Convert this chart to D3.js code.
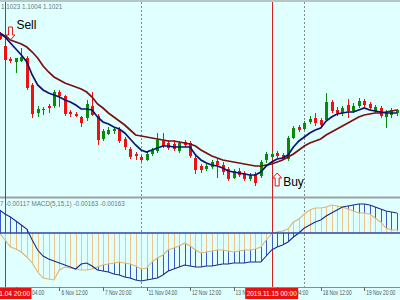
<!DOCTYPE html>
<html>
<head>
<meta charset="utf-8">
<script src="https://cdn.jsdelivr.net/npm/d3@7"></script>
<style>
  body { margin: 0; background: #e0ffff; }
  svg { display: block; font-family: "Liberation Sans", Arial, sans-serif; }
</style>
</head>
<body>
<svg id="chart" width="400" height="300"></svg>
<script>
// H4 bars, index 0 = 4 Nov 16:00
let open = [1.1147, 1.1134, 1.1121, 1.1118, 1.1119, 1.1122, 1.1095, 1.1067, 1.1070, 1.1074, 1.1074, 1.1088, 1.1084, 1.1068, 1.1066, 1.1063, 1.1062, 1.1074, 1.1064, 1.1041, 1.1046, 1.1049, 1.1051, 1.1041, 1.1031, 1.1026, 1.1023, 1.1020, 1.1026, 1.1029, 1.1039, 1.1037, 1.1036, 1.1029, 1.1038, 1.1037, 1.1022, 1.1014, 1.1011, 1.1013, 1.1019, 1.1015, 1.1011, 1.1002, 1.1009, 1.1007, 1.1001, 1.1006, 1.1004, 1.1020, 1.1023, 1.1027, 1.1025, 1.1021, 1.1042, 1.1053, 1.1051, 1.1058, 1.1062, 1.1060, 1.1060, 1.1078, 1.1070, 1.1067, 1.1075, 1.1069, 1.1074, 1.1079, 1.1076, 1.1069, 1.1072, 1.1063, 1.1065, 1.1067];
let high = [1.1148, 1.1140, 1.1123, 1.1122, 1.1132, 1.1124, 1.1097, 1.1074, 1.1073, 1.1076, 1.1090, 1.1090, 1.1085, 1.1070, 1.1068, 1.1064, 1.1080, 1.1088, 1.1066, 1.1051, 1.1053, 1.1053, 1.1053, 1.1043, 1.1033, 1.1028, 1.1025, 1.1028, 1.1032, 1.1047, 1.1047, 1.1040, 1.1040, 1.1039, 1.1040, 1.1039, 1.1024, 1.1016, 1.1016, 1.1020, 1.1021, 1.1018, 1.1013, 1.1011, 1.1012, 1.1009, 1.1007, 1.1008, 1.1020, 1.1028, 1.1028, 1.1029, 1.1027, 1.1044, 1.1054, 1.1055, 1.1059, 1.1064, 1.1067, 1.1062, 1.1087, 1.1080, 1.1073, 1.1074, 1.1081, 1.1077, 1.1082, 1.1081, 1.1078, 1.1075, 1.1074, 1.1070, 1.1072, 1.1071];
let low = [1.1140, 1.1118, 1.1117, 1.1107, 1.1118, 1.1090, 1.1062, 1.1063, 1.1065, 1.1067, 1.1072, 1.1073, 1.1064, 1.1063, 1.1063, 1.1053, 1.1059, 1.1064, 1.1035, 1.1039, 1.1045, 1.1046, 1.1037, 1.1030, 1.1021, 1.1020, 1.1018, 1.1019, 1.1024, 1.1027, 1.1032, 1.1030, 1.1029, 1.1027, 1.1033, 1.1022, 1.1006, 1.1007, 1.1009, 1.1011, 1.1002, 1.1005, 1.0999, 1.1001, 1.1003, 1.0999, 1.0999, 1.0994, 1.1002, 1.1017, 1.1022, 1.1022, 1.1020, 1.1019, 1.1041, 1.1048, 1.1050, 1.1056, 1.1054, 1.1052, 1.1059, 1.1067, 1.1064, 1.1064, 1.1062, 1.1067, 1.1072, 1.1072, 1.1070, 1.1067, 1.1062, 1.1052, 1.1062, 1.1064];
let close = [1.1141, 1.1120, 1.1119, 1.1122, 1.1123, 1.1092, 1.1066, 1.1071, 1.1071, 1.1072, 1.1088, 1.1084, 1.1066, 1.1066, 1.1064, 1.1057, 1.1076, 1.1065, 1.1040, 1.1049, 1.1050, 1.1051, 1.1039, 1.1033, 1.1023, 1.1024, 1.1020, 1.1026, 1.1030, 1.1040, 1.1034, 1.1032, 1.1031, 1.1037, 1.1035, 1.1024, 1.1010, 1.1010, 1.1014, 1.1018, 1.1015, 1.1008, 1.1001, 1.1009, 1.1005, 1.1001, 1.1005, 1.0997, 1.1018, 1.1026, 1.1026, 1.1024, 1.1021, 1.1042, 1.1052, 1.1050, 1.1057, 1.1061, 1.1057, 1.1055, 1.1078, 1.1069, 1.1067, 1.1072, 1.1069, 1.1074, 1.1079, 1.1075, 1.1072, 1.1073, 1.1064, 1.1068, 1.1070, 1.1070];

let maFast = [1.1147, 1.1143, 1.1137, 1.1131, 1.1125, 1.1118, 1.1105, 1.1095, 1.1090, 1.1087, 1.1085, 1.1083, 1.1080, 1.1078, 1.1075, 1.1071, 1.1071, 1.1070, 1.1063, 1.1058, 1.1056, 1.1053, 1.1051, 1.1047, 1.1041, 1.1035, 1.1030, 1.1028, 1.1030, 1.1032, 1.1034, 1.1034, 1.1033, 1.1033, 1.1033, 1.1033, 1.1025, 1.1020, 1.1017, 1.1015, 1.1014, 1.1012, 1.1009, 1.1008, 1.1007, 1.1006, 1.1005, 1.1005, 1.1008, 1.1014, 1.1018, 1.1021, 1.1022, 1.1025, 1.1033, 1.1039, 1.1043, 1.1047, 1.1050, 1.1052, 1.1059, 1.1063, 1.1066, 1.1067, 1.1068, 1.1068, 1.1070, 1.1072, 1.1070, 1.1069, 1.1068, 1.1067, 1.1067, 1.1067];
let maSlow = [1.1147, 1.1144, 1.1140, 1.1138, 1.1136, 1.1133, 1.1128, 1.1122, 1.1114, 1.1108, 1.1103, 1.1100, 1.1097, 1.1095, 1.1093, 1.1091, 1.1088, 1.1083, 1.1076, 1.1072, 1.1067, 1.1063, 1.1059, 1.1055, 1.1050, 1.1045, 1.1044, 1.1043, 1.1042, 1.1041, 1.1040, 1.1039, 1.1039, 1.1038, 1.1037, 1.1036, 1.1034, 1.1030, 1.1027, 1.1024, 1.1022, 1.1020, 1.1019, 1.1018, 1.1017, 1.1016, 1.1015, 1.1014, 1.1014, 1.1015, 1.1016, 1.1018, 1.1020, 1.1023, 1.1026, 1.1030, 1.1034, 1.1037, 1.1039, 1.1041, 1.1045, 1.1048, 1.1051, 1.1054, 1.1057, 1.1060, 1.1063, 1.1065, 1.1066, 1.1067, 1.1067, 1.1068, 1.1069, 1.1070];

let macd = [0.00069, 0.00057, 0.00048, 0.00036, 0.00024, 0.00012, -0.00021, -0.00051, -0.00069, -0.00078, -0.00084, -0.00090, -0.00096, -0.00102, -0.00108, -0.00093, -0.00090, -0.00099, -0.00111, -0.00114, -0.00117, -0.00123, -0.00126, -0.00132, -0.00135, -0.00141, -0.00144, -0.00141, -0.00138, -0.00135, -0.00126, -0.00114, -0.00108, -0.00102, -0.00096, -0.00099, -0.00102, -0.00102, -0.00099, -0.00099, -0.00096, -0.00093, -0.00093, -0.00090, -0.00090, -0.00090, -0.00087, -0.00087, -0.00087, -0.00069, -0.00051, -0.00042, -0.00036, -0.00027, -0.00012, 0.00000, 0.00015, 0.00024, 0.00033, 0.00039, 0.00051, 0.00060, 0.00069, 0.00078, 0.00081, 0.00084, 0.00087, 0.00087, 0.00084, 0.00078, 0.00072, 0.00066, 0.00063, 0.00060];
let signal = [0.00000, -0.00021, -0.00042, -0.00048, -0.00057, -0.00072, -0.00090, -0.00117, -0.00135, -0.00138, -0.00141, -0.00111, -0.00102, -0.00105, -0.00108, -0.00111, -0.00111, -0.00108, -0.00102, -0.00096, -0.00093, -0.00090, -0.00087, -0.00090, -0.00093, -0.00099, -0.00108, -0.00105, -0.00087, -0.00075, -0.00066, -0.00051, -0.00045, -0.00039, -0.00030, -0.00039, -0.00051, -0.00060, -0.00057, -0.00054, -0.00051, -0.00051, -0.00054, -0.00057, -0.00054, -0.00051, -0.00051, -0.00048, -0.00042, -0.00021, -0.00003, 0.00003, 0.00006, 0.00012, 0.00033, 0.00042, 0.00057, 0.00069, 0.00075, 0.00075, 0.00078, 0.00084, 0.00081, 0.00078, 0.00072, 0.00066, 0.00060, 0.00060, 0.00057, 0.00045, 0.00033, 0.00015, 0.00009, 0.00009];

let tickBars = [3, 11, 19, 27, 35, 43, 51, 59, 67];
let tickLabels = ["5 Nov 04:00", "6 Nov 12:00", "7 Nov 20:00", "11 Nov 04:00", "12 Nov 12:00", "13 Nov 20:00", "15 Nov 04:00", "18 Nov 12:00", "19 Nov 20:00"];
let weekBars = [26, 56];
let signalBars = [1, 50];
let signalTimes = ["2019.11.04 20:00", "2019.11.15 00:00"];
let arrowBars = [2, 51];
let arrowNames = ["Sell", "Buy"];
let arrowPrices = [1.1140, 1.1007];

let headerText = "1.1023 1.1004 1.1021";
let macdText = "7 -0.00117  MACD(5,15,1) -0.00163 -0.00163";

let svg = d3.select("#chart");
let x = d3.scaleLinear().domain([1, 50]).range([5, 271.7]);
let y = d3.scaleLinear().domain([1.0983, 1.1180]).range([197, 0]);
let ym = d3.scaleLinear().domain([-0.00162, 0.00102]).range([287, 199]);
let px = i => Math.round(x(i)) + 0.5;

svg.append("rect").attr("width", 400).attr("height", 300).attr("fill", "#e0ffff");

let defs = svg.append("defs");
defs.append("clipPath").attr("id", "clipMain")
    .append("rect").attr("x", 0).attr("y", 2).attr("width", 400).attr("height", 194);
defs.append("clipPath").attr("id", "clipMacd")
    .append("rect").attr("x", 0).attr("y", 199).attr("width", 400).attr("height", 88);

/* frame */
svg.append("line").attr("x1", 0).attr("x2", 400).attr("y1", 1).attr("y2", 1)
    .attr("stroke", "#8c8c8c");
svg.append("line").attr("x1", 0).attr("x2", 400).attr("y1", 197.5).attr("y2", 197.5)
    .attr("stroke", "#a0a0a0").attr("stroke-width", 2);
svg.append("line").attr("x1", 0).attr("x2", 400).attr("y1", 287.5).attr("y2", 287.5)
    .attr("stroke", "#8c8c8c");

/* week separators */
svg.selectAll(".sep")
    .data(weekBars)
    .enter()
    .append("line")
    .attr("class", "sep")
    .attr("x1", d => px(d)).attr("x2", d => px(d))
    .attr("y1", 2).attr("y2", 287)
    .attr("stroke", "#7f8c8c")
    .attr("stroke-dasharray", "2,2");

/* signal lines */
svg.selectAll(".sig")
    .data(signalBars)
    .enter()
    .append("line")
    .attr("class", "sig")
    .attr("x1", d => px(d)).attr("x2", d => px(d))
    .attr("y1", 2).attr("y2", 287)
    .attr("stroke", "#d42020");

/* candles */
let main = svg.append("g").attr("clip-path", "url(#clipMain)");
let candle = main.selectAll(".candle")
    .data(open.map((o, i) => i))
    .enter()
    .append("g")
    .attr("class", "candle")
    .attr("stroke", i => close[i] >= open[i] ? "#0a8a0a" : "#f01010")
    .attr("fill", i => close[i] >= open[i] ? "#0a8a0a" : "#f01010");

candle.append("line")
    .attr("x1", i => px(i)).attr("x2", i => px(i))
    .attr("y1", i => y(high[i])).attr("y2", i => y(low[i]));

candle.append("rect")
    .attr("stroke", "none")
    .attr("x", i => Math.round(x(i)) - 1)
    .attr("width", 3)
    .attr("y", i => y(Math.max(open[i], close[i])))
    .attr("height", i => Math.max(1, Math.abs(y(open[i]) - y(close[i]))));

let maLine = d3.line().x((d, i) => x(i)).y(d => y(d));
main.append("path").attr("d", maLine(maSlow))
    .attr("fill", "none").attr("stroke", "#7a1010").attr("stroke-width", 1.7);
main.append("path").attr("d", maLine(maFast))
    .attr("fill", "none").attr("stroke", "#0a1470").attr("stroke-width", 1.7);

/* arrows */
let arrow = svg.selectAll(".arrow")
    .data(arrowBars)
    .enter()
    .append("g")
    .attr("class", "arrow");

arrow.append("path")
    .attr("d", (d, k) => {
        let cx = x(d), ty = y(arrowPrices[k]);
        let s = arrowNames[k] == "Sell" ? -1 : 1;
        return `M${cx},${ty} L${cx + 4.5},${ty + s * 5} L${cx + 2},${ty + s * 5} L${cx + 2},${ty + s * 13}`
            + ` L${cx - 2},${ty + s * 13} L${cx - 2},${ty + s * 5} L${cx - 4.5},${ty + s * 5} Z`;
    })
    .attr("fill", "none")
    .attr("stroke", "#e01818")
    .attr("stroke-width", 1);

arrow.append("text")
    .attr("x", d => x(d) + 6)
    .attr("y", (d, k) => arrowNames[k] == "Sell" ? y(arrowPrices[k]) - 11 : y(arrowPrices[k]) + 13)
    .attr("font-size", 12)
    .attr("fill", "#000")
    .text((d, k) => arrowNames[k]);

svg.append("text").attr("x", 1).attr("y", 8.5)
    .attr("font-size", 6.3).attr("fill", "#707878")
    .text(headerText);

/* MACD panel */
let sub = svg.append("g").attr("clip-path", "url(#clipMacd)");
sub.selectAll(".hm")
    .data(macd)
    .enter()
    .append("line")
    .attr("class", "hm")
    .attr("x1", (d, i) => px(i)).attr("x2", (d, i) => px(i))
    .attr("y1", ym(0)).attr("y2", d => ym(d))
    .attr("stroke", "#3a58c8");
sub.selectAll(".hs")
    .data(signal)
    .enter()
    .append("line")
    .attr("class", "hs")
    .attr("x1", (d, i) => px(i)).attr("x2", (d, i) => px(i))
    .attr("y1", ym(0)).attr("y2", d => ym(d))
    .attr("stroke", "#efc48a");

let mLine = d3.line().x((d, i) => x(i)).y(d => ym(d));
sub.append("path").attr("d", mLine(signal))
    .attr("fill", "none").attr("stroke", "#e4b46c").attr("stroke-width", 1.1);
sub.append("path").attr("d", mLine(macd))
    .attr("fill", "none").attr("stroke", "#1c2a88").attr("stroke-width", 1.1);
sub.append("line").attr("x1", 0).attr("x2", 400)
    .attr("y1", ym(0)).attr("y2", ym(0))
    .attr("stroke", "#2c44a8").attr("stroke-width", 1.6);

svg.append("text").attr("x", 0).attr("y", 206)
    .attr("font-size", 6.3).attr("fill", "#707878")
    .text(macdText);

/* time axis */
let ticks = svg.selectAll(".tick")
    .data(tickBars)
    .enter()
    .append("g")
    .attr("class", "tick");
ticks.append("line")
    .attr("x1", d => px(d)).attr("x2", d => px(d))
    .attr("y1", 287).attr("y2", 291)
    .attr("stroke", "#606868");
ticks.append("text")
    .attr("transform", d => `translate(${x(d) + 2},295) scale(0.78,1)`)
    .attr("font-size", 6.3)
    .attr("fill", "#505858")
    .text((d, k) => tickLabels[k]);

let stamp = svg.selectAll(".stamp")
    .data(signalBars)
    .enter()
    .append("g")
    .attr("class", "stamp");
stamp.append("rect")
    .attr("x", d => x(d) - 26.5).attr("y", 288)
    .attr("width", 53).attr("height", 11)
    .attr("fill", "#e81010");
stamp.append("text")
    .attr("x", d => x(d)).attr("y", 296)
    .attr("text-anchor", "middle")
    .attr("font-size", 6.5)
    .attr("fill", "#fff")
    .text((d, k) => signalTimes[k]);
</script>
</body>
</html>
